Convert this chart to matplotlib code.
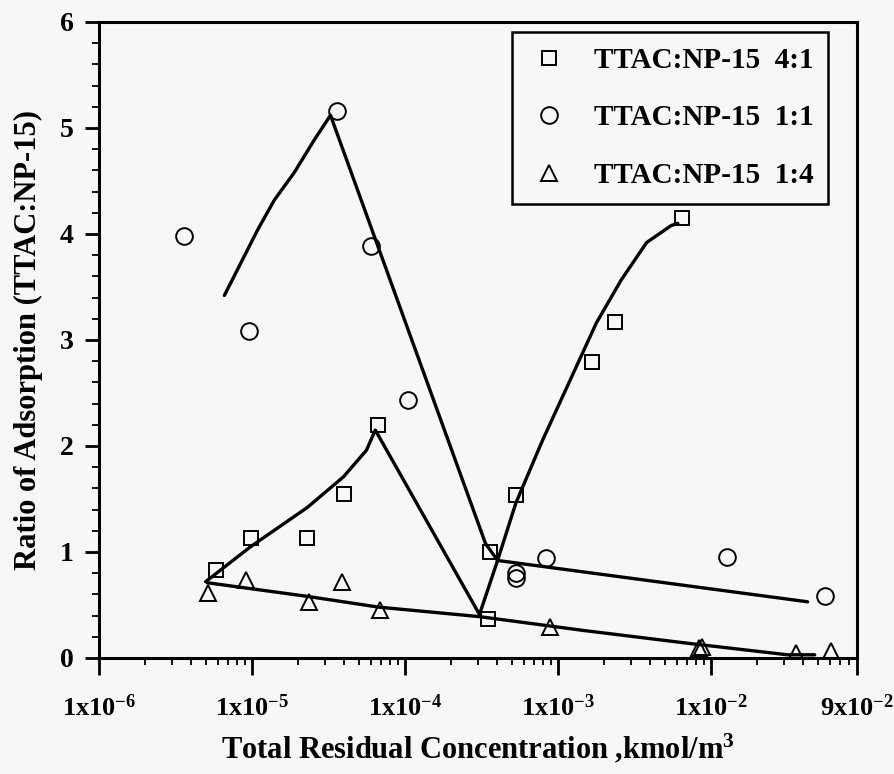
import matplotlib
matplotlib.use("Agg")
import matplotlib.pyplot as plt
from matplotlib.ticker import FixedLocator, LogLocator, MultipleLocator, NullFormatter

plt.rcParams['font.family'] = ['Liberation Serif', 'DejaVu Serif']
plt.rcParams['font.weight'] = 'bold'
plt.rcParams['axes.labelweight'] = 'bold'
plt.rcParams['mathtext.fontset'] = 'custom'
plt.rcParams['mathtext.rm'] = 'Liberation Serif:bold'
plt.rcParams['mathtext.it'] = 'Liberation Serif:italic:bold'

# measured points, TTAC:NP-15 4:1
sq_x = [5.8e-6, 9.8e-6, 2.3e-5, 3.97e-5, 6.7e-5, 3.6e-4, 3.5e-4, 5.3e-4, 1.67e-3, 2.37e-3, 6.44e-3]
sq_y = [0.83, 1.13, 1.13, 1.55, 2.20, 1.00, 0.37, 1.54, 2.79, 3.17, 4.15]
# TTAC:NP-15 1:1
ci_x = [3.6e-6, 9.6e-6, 3.57e-5, 5.97e-5, 1.05e-4, 5.3e-4, 5.3e-4, 8.34e-4, 1.27e-2, 5.6e-2]
ci_y = [3.98, 3.08, 5.16, 3.89, 2.43, 0.80, 0.75, 0.94, 0.95, 0.58]
# TTAC:NP-15 1:4
tr_x = [5.14e-6, 9.1e-6, 2.37e-5, 3.85e-5, 6.85e-5, 8.86e-4, 8.3e-3, 8.7e-3, 3.57e-2, 6.07e-2]
tr_y = [0.61, 0.74, 0.53, 0.72, 0.45, 0.29, 0.09, 0.10, 0.05, 0.07]

# hand-drawn trend curves
sq_fit_x = [4.98e-6, 9.8e-6, 2.3e-5, 3.97e-5, 5.6e-5, 6.4e-5, 3.07e-4, 4.03e-4, 5.3e-4,
            7.96e-4, 1.2e-3, 1.78e-3, 2.6e-3, 3.8e-3, 5.5e-3, 6.07e-3]
sq_fit_y = [0.72, 1.05, 1.42, 1.71, 1.96, 2.15, 0.41, 0.92, 1.46,
            2.06, 2.62, 3.16, 3.57, 3.92, 4.08, 4.10]
ci_fit_x = [6.6e-6, 1.09e-5, 1.4e-5, 1.89e-5, 2.56e-5, 3.26e-5, 3.36e-4, 4.03e-4, 4.28e-2]
ci_fit_y = [3.42, 4.04, 4.32, 4.58, 4.89, 5.12, 1.08, 0.92, 0.53]
tr_fit_x = [5.1e-6, 2.33e-5, 6.7e-5, 3.07e-4, 1.46e-3, 6.95e-3, 3.16e-2, 4.76e-2]
tr_fit_y = [0.71, 0.58, 0.48, 0.39, 0.26, 0.14, 0.03, 0.03]

xticks = [1e-6, 1e-5, 1e-4, 1e-3, 1e-2, 9e-2]
xticklabels = [r'1x10$^{-6}$', r'1x10$^{-5}$', r'1x10$^{-4}$', r'1x10$^{-3}$',
               r'1x10$^{-2}$', r'9x10$^{-2}$']

bg = '#f7f7f7'
fig = plt.figure(figsize=(8.94, 7.74), dpi=100, facecolor=bg)
ax = fig.add_axes([0.1107, 0.1499, 0.8479, 0.8217], facecolor=bg)

for fx, fy in [(sq_fit_x, sq_fit_y), (ci_fit_x, ci_fit_y), (tr_fit_x, tr_fit_y)]:
    ax.plot(fx, fy, color='black', lw=2.4, solid_capstyle='round', solid_joinstyle='round', zorder=2)

ax.plot(sq_x, sq_y, ls='none', marker='s', ms=9.5, mfc='none', mec='black', mew=1.4,
        label='TTAC:NP-15  4:1', zorder=3)
ax.plot(ci_x, ci_y, ls='none', marker='o', ms=12, mfc='none', mec='black', mew=1.4,
        label='TTAC:NP-15  1:1', zorder=3)
ax.plot(tr_x, tr_y, ls='none', marker='^', ms=11, mfc='none', mec='black', mew=1.4,
        label='TTAC:NP-15  1:4', zorder=3)

ax.set_xscale('log')
ax.set_xlim(1e-6, 9e-2)
ax.set_ylim(0, 6)

ax.xaxis.set_major_locator(FixedLocator(xticks))
ax.set_xticklabels(xticklabels)
ax.xaxis.set_minor_locator(LogLocator(base=10, subs=range(2, 10), numticks=20))
ax.xaxis.set_minor_formatter(NullFormatter())
ax.yaxis.set_major_locator(MultipleLocator(1))
ax.yaxis.set_minor_locator(MultipleLocator(0.2))

ax.tick_params(which='major', direction='out', length=10, width=2, labelsize=20, pad=8,
               top=False, right=False)
ax.tick_params(axis='x', which='major', length=12, pad=14, labelsize=19)
ax.tick_params(which='minor', direction='out', length=5, width=1.3, top=False, right=False)
for s in ax.spines.values():
    s.set_linewidth(2.2)

ax.set_xlabel(r'Total Residual Concentration ,kmol/m$^3$', fontsize=22, labelpad=8)
ax.set_ylabel('Ratio of Adsorption (TTAC:NP-15)', fontsize=22, labelpad=12)

leg = ax.legend(loc='upper left', bbox_to_anchor=(0.545, 0.984), borderaxespad=0,
                fontsize=21, frameon=True, fancybox=False, edgecolor='black',
                facecolor=bg, framealpha=1, handlelength=1.5, handletextpad=0.8,
                labelspacing=1.05, borderpad=0.5)
leg.get_frame().set_linewidth(1.8)

fig.savefig('out.png', dpi=100, facecolor=bg)
